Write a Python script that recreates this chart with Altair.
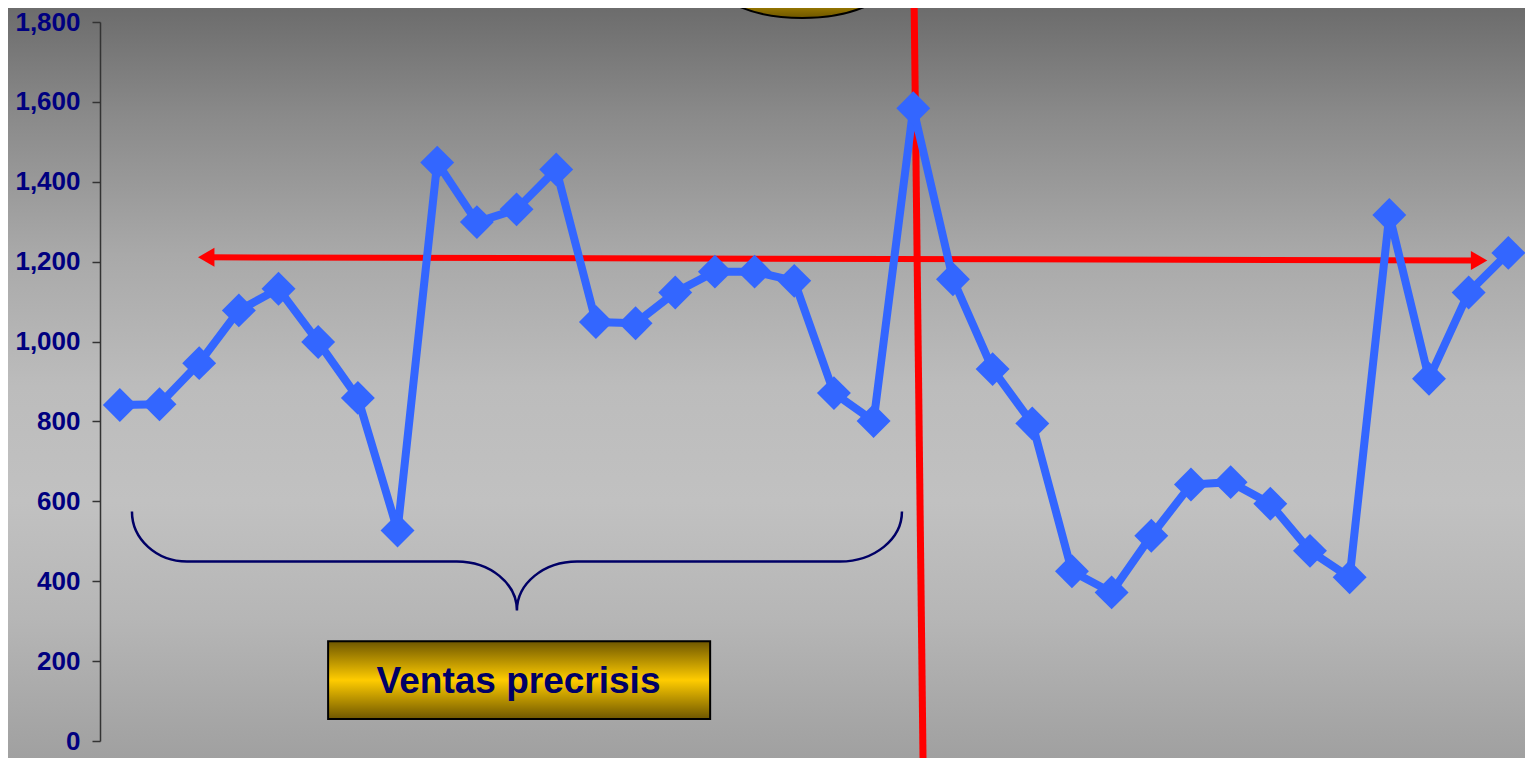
import altair as alt
import pandas as pd

# ---- data ----
periods = [1, 2, 3, 4, 5, 6, 7, 8, 9, 10, 11, 12, 13, 14, 15, 16, 17, 18,
           19, 20, 21, 22, 23, 24, 25, 26, 27, 28, 29, 30, 31, 32, 33, 34, 35, 36]
sales = [841, 843, 946, 1078, 1132, 999, 859, 527, 1448, 1299, 1331, 1431,
         1049, 1046, 1123, 1175, 1175, 1152, 871, 801, 1584, 1156, 931, 795,
         425, 372, 514, 642, 648, 594, 476, 410, 1317, 907, 1123, 1222]
y_ticks = [0, 200, 400, 600, 800, 1000, 1200, 1400, 1600, 1800]
box_label = "Ventas precrisis"

# ---- annotation anchors (data space) ----
arrow_x = [2.97, 35.47]
arrow_y = [1211, 1203]
vline_x = [21.02, 21.25]
vline_y = [1860, -78]
box_x = [6.25, 15.88]
box_y = [55, 250]
text_xy = [11.05, 147]
brace_xy = [11.01, 450.6]
ellipse_xy = [18.20, 1910]

# ---- layout ----
W, H = 1425, 719
X_DOMAIN = [0.5, 36.42]
Y_DOMAIN = [0, 1800]
PX = W / (X_DOMAIN[1] - X_DOMAIN[0])

xs = alt.Scale(domain=X_DOMAIN, nice=False, zero=False)
ys = alt.Scale(domain=Y_DOMAIN, nice=False, zero=False)
yaxis = alt.Axis(values=y_ticks, format=",d", title=None, grid=False,
                 labelFont="Liberation Sans", labelFontSize=26,
                 labelFontWeight="bold", labelColor="#000080",
                 labelPadding=12, tickSize=8, tickColor="#333333",
                 tickWidth=1.5, domainColor="#333333", domainWidth=1.5,
                 zindex=1)


def X(f):
    return alt.X(f, type="quantitative", scale=xs, axis=None)


def Y(f):
    return alt.Y(f, type="quantitative", scale=ys, axis=yaxis)


one = pd.DataFrame({"k": [0]})

bg_gradient = {
    "gradient": "linear", "x1": 0, "y1": 0, "x2": 0, "y2": 1,
    "stops": [
        {"offset": 0.0, "color": "#6a6a6a"},
        {"offset": 0.15, "color": "#8a8a8a"},
        {"offset": 0.33, "color": "#a9a9a9"},
        {"offset": 0.5, "color": "#bcbcbc"},
        {"offset": 0.65, "color": "#c1c1c1"},
        {"offset": 0.8, "color": "#b6b6b6"},
        {"offset": 1.0, "color": "#9e9e9e"},
    ],
}
gold_gradient = {
    "gradient": "linear", "x1": 0, "y1": 0, "x2": 0, "y2": 1,
    "stops": [
        {"offset": 0.0, "color": "#6e5600"},
        {"offset": 0.5, "color": "#ffcc00"},
        {"offset": 1.0, "color": "#6e5600"},
    ],
}

background = alt.Chart(one).mark_rect(color=bg_gradient).encode(
    x=alt.value(-100), x2=alt.value(1433), y=alt.value(-22), y2=alt.value(750)
)

ellipse_path = ("M-1,0 C-1,-0.245 -0.552,-0.444 0,-0.444 "
                "C0.552,-0.444 1,-0.245 1,0 C1,0.245 0.552,0.444 0,0.444 "
                "C-0.552,0.444 -1,0.245 -1,0 Z")
ellipse = alt.Chart(pd.DataFrame({"x": [ellipse_xy[0]], "y": [ellipse_xy[1]]})).mark_point(
    shape=ellipse_path, filled=True, color=gold_gradient, stroke="#000000",
    strokeWidth=2, size=180 ** 2, opacity=1
).encode(x=X("x"), y=Y("y"))

box = alt.Chart(pd.DataFrame({"x": [box_x[0]], "x2": [box_x[1]],
                              "y": [box_y[0]], "y2": [box_y[1]]})).mark_rect(
    color=gold_gradient, stroke="#000000", strokeWidth=2
).encode(x=X("x"), x2=alt.X2("x2"), y=Y("y"), y2=alt.Y2("y2"))

box_text = alt.Chart(pd.DataFrame({"x": [text_xy[0]], "y": [text_xy[1]],
                                   "t": [box_label]})).mark_text(
    font="Liberation Sans", fontSize=37, fontWeight="bold", color="#000066",
    align="center", baseline="middle"
).encode(x=X("x"), y=Y("y"), text="t:N")

brace_path = ("M-1,-0.1286 C-1,-0.0568 -0.936,0.0013 -0.857,0.0013 "
              "L-0.156,0.0013 C-0.0698,0.0013 0,0.0585 0,0.1286 "
              "C0,0.0585 0.0698,0.0013 0.156,0.0013 L0.839,0.0013 "
              "C0.928,0.0013 1,-0.0568 1,-0.1286")
brace = alt.Chart(pd.DataFrame({"x": [brace_xy[0]], "y": [brace_xy[1]]})).mark_point(
    shape=brace_path, filled=False, color="#000066", strokeWidth=2.5,
    size=770 ** 2, opacity=1
).encode(x=X("x"), y=Y("y"))

vline = alt.Chart(pd.DataFrame({"x": [vline_x[0]], "x2": [vline_x[1]],
                                "y": [vline_y[0]], "y2": [vline_y[1]]})).mark_rule(
    color="#ff0000", strokeWidth=7
).encode(x=X("x"), x2=alt.X2("x2"), y=Y("y"), y2=alt.Y2("y2"))

head_size = 360
head_h = (3 ** 0.5) / 2 * (head_size ** 0.5) / 2
arrow_cx = [arrow_x[0] + head_h / PX, arrow_x[1] - head_h / PX]

arrow_line = alt.Chart(pd.DataFrame({"x": [arrow_cx[0]], "x2": [arrow_cx[1]],
                                     "y": [arrow_y[0]], "y2": [arrow_y[1]]})).mark_rule(
    color="#ff0000", strokeWidth=6
).encode(x=X("x"), x2=alt.X2("x2"), y=Y("y"), y2=alt.Y2("y2"))

head_left = alt.Chart(pd.DataFrame({"x": [arrow_cx[0]], "y": [arrow_y[0]]})).mark_point(
    shape="triangle-left", filled=True, color="#ff0000", size=head_size, opacity=1
).encode(x=X("x"), y=Y("y"))
head_right = alt.Chart(pd.DataFrame({"x": [arrow_cx[1]], "y": [arrow_y[1]]})).mark_point(
    shape="triangle-right", filled=True, color="#ff0000", size=head_size, opacity=1
).encode(x=X("x"), y=Y("y"))

df = pd.DataFrame({"period": periods, "sales": sales})
line = alt.Chart(df).mark_line(color="#3366ff", strokeWidth=8).encode(
    x=X("period"), y=Y("sales")
)
points = alt.Chart(df).mark_point(
    shape="diamond", filled=True, color="#3366ff", size=1150, opacity=1
).encode(x=X("period"), y=Y("sales"))

chart = alt.layer(
    background, ellipse, box, box_text, brace, vline,
    arrow_line, head_left, head_right, line, points
).properties(
    width=W, height=H,
    autosize=alt.AutoSizeParams(type="none"),
    padding={"left": 92, "top": 14, "right": 0, "bottom": 17},
).configure_view(strokeWidth=0).configure(background="#a8a8a8")

chart.save("out.html", embed_options={"renderer": "svg", "actions": False})
